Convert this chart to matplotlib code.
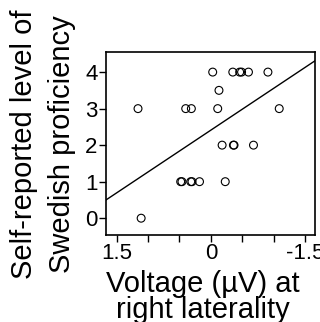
import matplotlib
matplotlib.use("Agg")
import matplotlib.pyplot as plt
import numpy as np

plt.rcParams['font.family'] = ['Liberation Sans', 'DejaVu Sans']

# Data (x = voltage in µV, y = proficiency level)
voltage = [1.16, 1.11, 0.48, 0.46, 0.32, 0.30, 0.18, -0.23, 0.40, 0.31,
           -0.03, -0.13, -0.11, -0.18, -0.36, -0.37, -0.68, -0.35, -0.46,
           -0.49, -0.60, -0.91, -1.09]
proficiency = [3, 0, 1, 1, 1, 1, 1, 1, 3, 3,
               4, 3.5, 3, 2, 2, 2, 2, 4, 4,
               4, 4, 4, 3]
fit_slope = -1.144
fit_intercept = 2.41
xticks = [1.5, 1.0, 0.5, 0.0, -0.5, -1.0, -1.5]
xticklabels = ["1.5", "", "", "0", "", "", "-1.5"]
yticks = [0, 1, 2, 3, 4]
ylabel_lines = ["Self-reported level of", "Swedish proficiency"]
xlabel_lines = ["Voltage (µV) at", "right laterality"]

W, H = 320, 322
fig = plt.figure(figsize=(W/100, H/100), dpi=100)
ax = fig.add_axes([106/W, 1-235/H, 209/W, 183/H])

ax.scatter(voltage, proficiency, s=32, facecolors='none', edgecolors='black',
           linewidths=0.8, zorder=3)
xlim = (1.67, -1.66)
lx = np.array(xlim)
ax.plot(lx, fit_slope*lx + fit_intercept, color='black', lw=1.0)

ax.set_xlim(*xlim)
ax.set_ylim(-0.46, 4.55)
ax.set_xticks(xticks)
ax.set_xticklabels(xticklabels)
ax.set_yticks(yticks)
ax.tick_params(axis='both', labelsize=16, length=5, width=1, direction='out', pad=1)
for s in ax.spines.values():
    s.set_linewidth(1.2)

# y label: two lines, rotated, baseline-anchored
for bx, txt in zip([31.7, 70.0], ylabel_lines):
    fig.text(bx/W, 1-144/H, txt, rotation=90, rotation_mode='anchor',
             ha='center', va='baseline', fontsize=21)
# x label: two lines, baseline-anchored
for by, txt in zip([291.7, 318.0], xlabel_lines):
    fig.text(203/W, 1-by/H, txt, ha='center', va='baseline', fontsize=21)

fig.savefig("out.png", dpi=100)
